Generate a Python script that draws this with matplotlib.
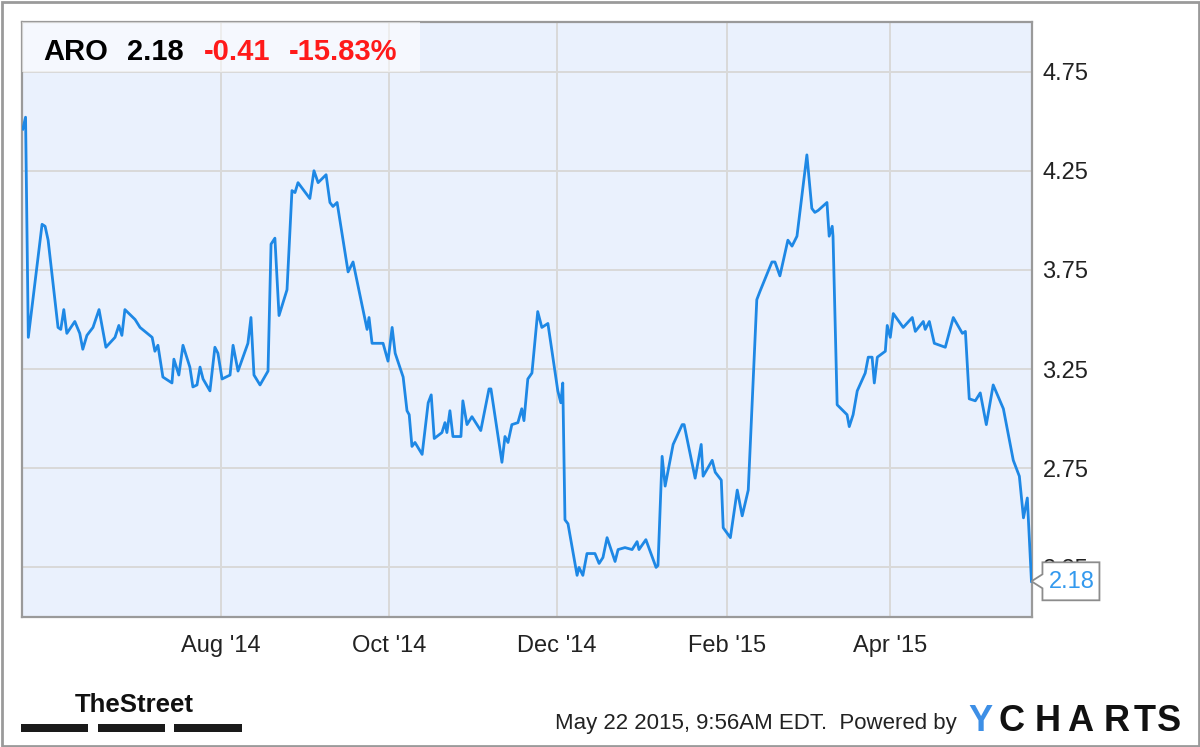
import matplotlib
matplotlib.use('Agg')
import matplotlib.pyplot as plt
import matplotlib.dates as mdates
import matplotlib.patches as mpatches
import matplotlib.transforms as mtransforms
import pandas as pd

plt.rcParams['font.family'] = ['Liberation Sans', 'DejaVu Sans']

# ---------------- data ----------------
ticker = "ARO"
last_price_label = "2.18"
change_label = "-0.41"
pct_change_label = "-15.83%"
start_date = "2014-05-21"

# days after start_date
days = [0, 1, 2, 7, 8.1, 9.2, 12.8, 13.8, 14.9, 16.0,
        18.9, 20.7, 21.8, 23.3, 25.5, 27.7, 30.2, 33.5, 34.9, 36.0,
        37.1, 40.8, 42.6, 47.0, 48.0, 49.1, 50.9, 54.2, 54.9, 56.7,
        58.2, 60.7, 61.8, 63.3, 64.4, 65.5, 68.0, 69.8, 70.9, 72.4,
        75.3, 76.4, 78.2, 81.8, 82.9, 84.0, 86.2, 89.1, 90.2, 91.6,
        93.1, 96.0, 97.8, 98.9, 100.0, 104.3, 105.8, 107.3, 110.2, 111.6,
        112.7, 114.2, 118.2, 120.0, 125.1, 125.8, 126.9, 130.9, 132.7, 134.2,
        135.3, 138.2, 139.6, 140.4, 141.4, 142.5, 145.1, 147.3, 148.4, 149.5,
        152.3, 153.4, 154.1, 155.2, 156.3, 159.2, 159.9, 161.4, 163.2, 166.4,
        169.4, 170.1, 174.1, 175.2, 176.3, 177.7, 179.9, 181.3, 182.1, 183.5,
        185.0, 187.1, 188.6, 190.8, 194.4, 195.5, 196.2, 197.0, 198.1, 201.4,
        202.1, 203.5, 205.0, 207.9, 209.4, 210.8, 212.3, 215.2, 216.3, 218.8,
        221.4, 223.2, 223.9, 226.4, 230.1, 230.8, 232.3, 233.4, 236.3, 239.6,
        240.3, 244.3, 246.5, 247.2, 250.5, 251.6, 253.8, 254.5, 257.1, 259.6,
        261.4, 263.6, 266.7, 267.8, 272.2, 273.3, 275.1, 278.0, 279.5, 281.3,
        284.9, 286.7, 287.8, 289.0, 292.2, 293.0, 294.1, 294.4, 295.9, 299.5,
        300.3, 301.7, 303.2, 306.1, 307.2, 308.6, 309.4, 310.5, 313.4, 314.1,
        315.2, 316.3, 319.9, 323.2, 324.3, 327.2, 327.9, 329.4, 331.2, 335.2,
        338.1, 341.4, 342.5, 343.9, 346.1, 347.9, 350.1, 352.6, 356.3, 359.9,
        362.1, 363.6, 365.0, 366.5]

prices = [4.46, 4.52, 3.41, 3.98, 3.97, 3.90, 3.46, 3.45, 3.55, 3.43,
          3.49, 3.43, 3.35, 3.42, 3.46, 3.55, 3.36, 3.41, 3.47, 3.42,
          3.55, 3.50, 3.46, 3.41, 3.34, 3.37, 3.21, 3.18, 3.30, 3.22,
          3.37, 3.26, 3.16, 3.17, 3.26, 3.20, 3.14, 3.36, 3.33, 3.20,
          3.22, 3.37, 3.24, 3.38, 3.51, 3.22, 3.17, 3.24, 3.88, 3.91,
          3.52, 3.65, 4.15, 4.14, 4.19, 4.11, 4.25, 4.19, 4.23, 4.09,
          4.07, 4.09, 3.74, 3.79, 3.45, 3.51, 3.38, 3.38, 3.29, 3.46,
          3.33, 3.21, 3.04, 3.02, 2.86, 2.88, 2.82, 3.08, 3.12, 2.90,
          2.93, 2.98, 2.93, 3.04, 2.91, 2.91, 3.09, 2.97, 3.01, 2.94,
          3.15, 3.15, 2.78, 2.91, 2.88, 2.97, 2.98, 3.05, 2.99, 3.20,
          3.23, 3.54, 3.46, 3.48, 3.14, 3.08, 3.18, 2.49, 2.47, 2.21,
          2.25, 2.21, 2.32, 2.32, 2.27, 2.30, 2.40, 2.28, 2.34, 2.35,
          2.34, 2.38, 2.34, 2.39, 2.25, 2.26, 2.81, 2.66, 2.87, 2.97,
          2.97, 2.70, 2.87, 2.71, 2.79, 2.73, 2.69, 2.45, 2.40, 2.64,
          2.51, 2.64, 3.60, 3.64, 3.79, 3.79, 3.72, 3.90, 3.87, 3.92,
          4.33, 4.06, 4.04, 4.05, 4.09, 3.92, 3.97, 3.92, 3.07, 3.02,
          2.96, 3.02, 3.14, 3.23, 3.31, 3.31, 3.18, 3.31, 3.34, 3.47,
          3.41, 3.53, 3.46, 3.51, 3.44, 3.49, 3.45, 3.49, 3.38, 3.36,
          3.51, 3.43, 3.44, 3.10, 3.09, 3.13, 2.97, 3.17, 3.05, 2.79,
          2.71, 2.50, 2.60, 2.18]

x_tick_dates = ["2014-08-01", "2014-10-01", "2014-12-01", "2015-02-01", "2015-04-01"]
x_tick_labels = ["Aug '14", "Oct '14", "Dec '14", "Feb '15", "Apr '15"]
y_ticks = [2.25, 2.75, 3.25, 3.75, 4.25, 4.75]
y_tick_labels = ["2.25", "2.75", "3.25", "3.75", "4.25", "4.75"]
footer_text = "May 22 2015, 9:56AM EDT.  Powered by"

# ---------------- figure ----------------
W, H = 1200, 747
fig = plt.figure(figsize=(W / 100, H / 100), dpi=100)
fig.patch.set_facecolor('white')

ax = fig.add_axes([22 / W, 1 - 617 / H, 1010 / W, 595 / H])
ax.set_facecolor('#eaf1fd')

start = pd.Timestamp(start_date)
dates = start + pd.to_timedelta(days, unit='D')
line_color = '#1e88e5'
ax.plot(dates, prices, color=line_color, lw=2.0, solid_joinstyle='round', zorder=4)

ax.set_ylim(2.0, 5.0)
ax.set_xlim(start - pd.Timedelta(hours=7), start + pd.Timedelta(days=366.7))

ax.set_xticks([pd.Timestamp(d) for d in x_tick_dates])
ax.set_xticklabels(x_tick_labels)
ax.set_yticks(y_ticks)
ax.set_yticklabels(y_tick_labels)
ax.yaxis.tick_right()
ax.grid(True, color='#d9d9d9', lw=1.4)
ax.set_axisbelow(True)
ax.tick_params(axis='x', length=0, pad=13, labelsize=17, colors='#222222')
ax.tick_params(axis='y', length=0, pad=7.5, labelsize=17, colors='#222222')
for s in ax.spines.values():
    s.set_color('#9a9a9a')
    s.set_linewidth(1.6)

# header box
ax.add_patch(mpatches.Rectangle((0, 1 - 50 / 595), 398 / 1010, 50 / 595,
                                transform=ax.transAxes, facecolor='white',
                                alpha=0.55, edgecolor='none', zorder=3))
hy = 1 - 60 / H
fig.text(43 / W, hy, ticker, fontsize=21, weight='bold', color='black', va='baseline')
fig.text(127 / W, hy, last_price_label, fontsize=21, weight='bold', color='black', va='baseline')
fig.text(204 / W, hy, change_label, fontsize=21, weight='bold', color='#ff1a1a', va='baseline')
fig.text(289 / W, hy, pct_change_label, fontsize=21, weight='bold', color='#ff1a1a', va='baseline')

# last price callout
lx = mdates.date2num(dates[-1])
px, py = ax.transData.transform((lx, prices[-1]))
tr = mtransforms.Affine2D().translate(px, py)
verts = [(0, 0), (11, 7), (11, 19), (68, 19), (68, -19), (11, -19), (11, -7)]
poly = mpatches.Polygon(verts, closed=True, facecolor='white', edgecolor='#8c8c8c',
                        lw=1.3, transform=tr, zorder=5)
fig.add_artist(poly)
fig.text(40, -1, last_price_label, transform=tr, fontsize=17, color='#3399ee',
         ha='center', va='center', zorder=6)

# footer
fig.text(555 / W, 1 - 729 / H, footer_text, fontsize=16, color='#222222', va='baseline')
yc_letters = ["Y", "C", "H", "A", "R", "T", "S"]
yc_x = [968, 999, 1035, 1067, 1104, 1134, 1157]
for ch, xx in zip(yc_letters, yc_x):
    fig.text(xx / W, 1 - 731 / H, ch, fontsize=26, weight='bold',
             color='#3d8fe6' if ch == 'Y' else '#111111', va='baseline')

fig.text(75 / W, 1 - 712 / H, "TheStreet", fontsize=18.5, weight='bold',
         color='#111111', va='baseline')
for x0, x1 in [(21, 88), (98, 165), (174, 242)]:
    fig.add_artist(mpatches.Rectangle((x0 / W, 1 - 732 / H), (x1 - x0) / W, 8 / H,
                                      transform=fig.transFigure, facecolor='#1a1a1a',
                                      edgecolor='none'))

# outer frame
fig.add_artist(mpatches.Rectangle((1.5 / W, 1.5 / H), 1 - 3 / W, 1 - 3 / H,
                                  transform=fig.transFigure, fill=False,
                                  edgecolor='#9a9a9a', lw=2))

fig.savefig('out.png', dpi=100)
